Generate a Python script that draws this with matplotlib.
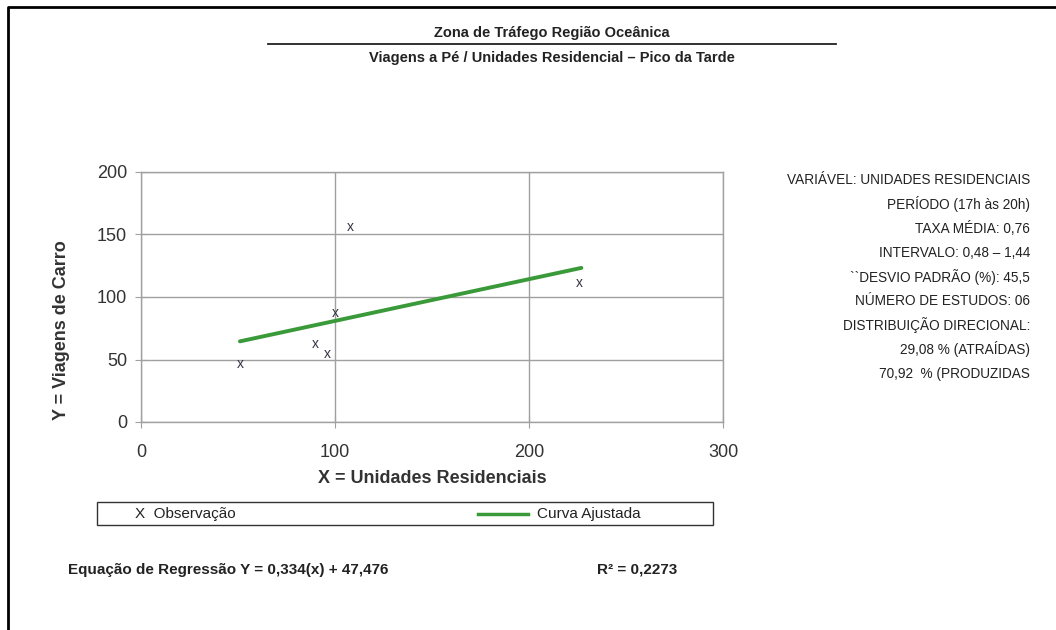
import matplotlib
matplotlib.use('Agg')
import matplotlib.pyplot as plt
from matplotlib.lines import Line2D
from matplotlib.patches import Rectangle

# dados
obs_x = [51, 90, 96, 100, 108, 226]
obs_y = [46, 62, 54, 87, 156, 111]
reg_a = 0.334
reg_b = 47.476
fit_x = [51, 227]
fit_y = [reg_a * v + reg_b for v in fit_x]

xticks = [0, 100, 200, 300]
yticks = [0, 50, 100, 150, 200]

info = ["VARIÁVEL: UNIDADES RESIDENCIAIS",
        "PERÍODO (17h às 20h)",
        "TAXA MÉDIA: 0,76",
        "INTERVALO: 0,48 – 1,44",
        "``DESVIO PADRÃO (%): 45,5",
        "NÚMERO DE ESTUDOS: 06",
        "DISTRIBUIÇÃO DIRECIONAL:",
        "29,08 % (ATRAÍDAS)",
        "70,92  % (PRODUZIDAS"]

arial = ['Liberation Sans', 'DejaVu Sans']
plt.rcParams['font.family'] = arial

W, H = 1056, 630
fig = plt.figure(figsize=(W / 100, H / 100), dpi=100)

def fx(px):
    return px / W

def fy(py):
    return 1 - py / H

ax = fig.add_axes([fx(141), fy(422), fx(723) - fx(141), fy(172) - fy(422)])
ax.set_xlim(0, 300)
ax.set_ylim(0, 200)
ax.set_xticks(xticks)
ax.set_yticks(yticks)
ax.grid(True, color='#a0a0a0', lw=1.0)
for s in ax.spines.values():
    s.set_color('#a0a0a0')
    s.set_linewidth(1.0)
ax.tick_params(direction='inout', length=8, color='#a0a0a0', labelsize=13,
               labelcolor='#333333')
ax.tick_params(axis='x', pad=12)
ax.tick_params(axis='y', pad=6)

ax.plot(fit_x, fit_y, color='#3a9a3a', lw=2.8, solid_capstyle='round')
for xv, yv in zip(obs_x, obs_y):
    ax.text(xv, yv, 'x', ha='center', va='center', fontsize=10,
            color='#333344')

ax.set_xlabel('X = Unidades Residenciais', fontsize=13, fontweight='bold',
              color='#333333', labelpad=6)
fig.text(fx(62), fy(330), 'Y = Viagens de Carro', rotation=90, fontsize=13,
         fontweight='bold', color='#333333', ha='center', va='center')

# titulo
fig.text(fx(552), fy(33), 'Zona de Tráfego Região Oceânica',
         fontsize=10.5, fontweight='bold', ha='center', va='center',
         color='#222222')
fig.add_artist(Line2D([fx(268), fx(836)], [fy(44), fy(44)], color='#222222',
                      lw=1.3))
fig.text(fx(552), fy(58), 'Viagens a Pé / Unidades Residencial – Pico da Tarde',
         fontsize=10.5, fontweight='bold', ha='center',
         va='center', color='#222222')

# bloco de informacoes
for i, t in enumerate(info):
    fig.text(fx(1030), fy(180 + i * 24.2), t, fontsize=9.8,
             ha='right', va='center', color='#222222')

# legenda
fig.add_artist(Rectangle((fx(97), fy(525)), fx(713) - fx(97),
                         fy(502) - fy(525), fill=False, ec='#333333', lw=1.0))
fig.text(fx(135), fy(514), 'X  Observação', fontsize=11, va='center',
         color='#222222')
fig.add_artist(Line2D([fx(478), fx(528)], [fy(514), fy(514)],
                      color='#3a9a3a', lw=2.5))
fig.text(fx(537), fy(514), 'Curva Ajustada', fontsize=11, va='center',
         color='#222222')

fig.text(fx(68), fy(570), 'Equação de Regressão Y = 0,334(x) + 47,476',
         fontsize=11, fontweight='bold', va='center', color='#222222')
fig.text(fx(597), fy(570), 'R² = 0,2273', fontsize=11, fontweight='bold',
         va='center', color='#222222')

# moldura
fig.add_artist(Line2D([fx(8), fx(8), fx(1056)], [fy(630), fy(7), fy(7)],
                      color='black', lw=2))

plt.savefig('out.png', dpi=100)
